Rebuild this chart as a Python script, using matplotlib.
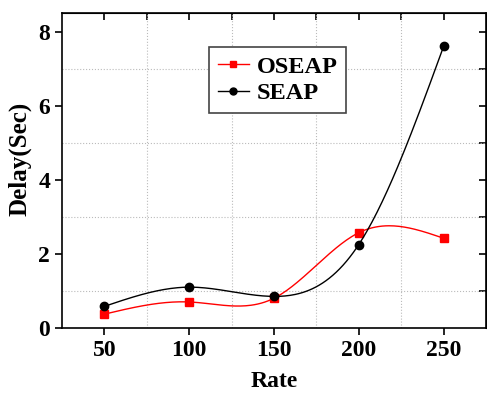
import matplotlib
matplotlib.use("Agg")
import matplotlib.pyplot as plt
import numpy as np

rate = [50, 100, 150, 200, 250]
oseap = [0.37, 0.70, 0.80, 2.57, 2.42]
seap = [0.58, 1.10, 0.85, 2.25, 7.60]


def natural_spline(x, y, n=200):
    # plain natural cubic spline, used only to draw the smooth connecting line
    x = np.asarray(x, float)
    y = np.asarray(y, float)
    k = len(x)
    h = np.diff(x)
    A = np.zeros((k, k))
    b = np.zeros(k)
    A[0, 0] = A[-1, -1] = 1
    for i in range(1, k - 1):
        A[i, i - 1] = h[i - 1]
        A[i, i] = 2 * (h[i - 1] + h[i])
        A[i, i + 1] = h[i]
        b[i] = 6 * ((y[i + 1] - y[i]) / h[i] - (y[i] - y[i - 1]) / h[i - 1])
    m = np.linalg.solve(A, b)
    xs = np.linspace(x[0], x[-1], n)
    idx = np.clip(np.searchsorted(x, xs) - 1, 0, k - 2)
    x0, x1 = x[idx], x[idx + 1]
    hh = x1 - x0
    t0, t1 = x1 - xs, xs - x0
    ys = (m[idx] * t0 ** 3 + m[idx + 1] * t1 ** 3) / (6 * hh) \
        + (y[idx] / hh - m[idx] * hh / 6) * t0 \
        + (y[idx + 1] / hh - m[idx + 1] * hh / 6) * t1
    return xs, ys


plt.rcParams['font.family'] = ['Liberation Serif', 'DejaVu Serif']
plt.rcParams['font.weight'] = 'bold'

fig = plt.figure(figsize=(4.87, 3.96), dpi=100)
ax = fig.add_axes([0.127, 0.172, 0.871, 0.795])

xs, ys = natural_spline(rate, oseap)
ax.plot(xs, ys, color='red', lw=1)
ax.plot(rate, oseap, 's', color='red', ms=6, ls='none')
xs, ys = natural_spline(rate, seap)
ax.plot(xs, ys, color='black', lw=1)
ax.plot(rate, seap, 'o', color='black', ms=6, ls='none')

# legend proxies
ax.plot([], [], '-s', color='red', ms=5, lw=1, label='OSEAP')
ax.plot([], [], '-o', color='black', ms=5, lw=1, label='SEAP')

ax.set_xlim(25, 275)
ax.set_ylim(0, 8.5)
ax.set_xticks([50, 100, 150, 200, 250])
ax.set_xticks([75, 125, 175, 225], minor=True)
ax.set_yticks([0, 2, 4, 6, 8])
ax.set_yticks([1, 3, 5, 7], minor=True)
ax.tick_params(axis='both', which='major', labelsize=17, width=1.2, length=5,
               direction='out', top=False, right=False)
ax.tick_params(axis='both', which='minor', length=0)
for lab in ax.get_xticklabels() + ax.get_yticklabels():
    lab.set_fontweight('bold')

# inward ticks on top and right
sec_x = ax.secondary_xaxis('top')
sec_x.set_xticks([50, 75, 100, 125, 150, 175, 200, 225, 250])
sec_x.tick_params(direction='in', length=5, width=1.2, labeltop=False)
sec_y = ax.secondary_yaxis('right')
sec_y.set_yticks([1, 2, 3, 4, 5, 6, 7, 8])
sec_y.tick_params(direction='in', length=5, width=1.2, labelright=False)

ax.grid(True, which='minor', ls=':', color='#bbbbbb', lw=0.8)
for s in ax.spines.values():
    s.set_linewidth(1.2)

ax.set_xlabel('Rate', fontsize=17, fontweight='bold')
ax.xaxis.set_label_coords(0.5, -0.137)
ax.set_ylabel('Delay(Sec)', fontsize=18, fontweight='bold')
ax.yaxis.set_label_coords(-0.072, 0.537)

leg = ax.legend(loc='upper left', bbox_to_anchor=(0.347, 0.892),
                borderaxespad=0, prop={'weight': 'bold', 'size': 17.5},
                fancybox=False, edgecolor='#444444', framealpha=1,
                handlelength=1.3, borderpad=0.35, labelspacing=0.2,
                handletextpad=0.3)
leg.get_frame().set_linewidth(1.2)

fig.savefig('out.png', dpi=100)
